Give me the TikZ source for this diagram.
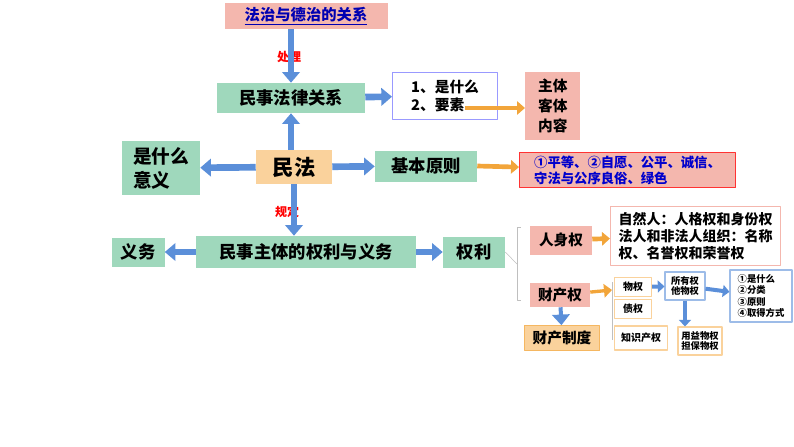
\documentclass[tikz,border=0pt]{standalone}
\usepackage{fontspec}
\setmainfont{Noto Sans CJK SC}
\newcommand\cjkb{\bfseries}
\usetikzlibrary{arrows.meta}
\definecolor{gbox}{HTML}{9FD8BC}
\definecolor{pbox}{HTML}{F4B7AE}
\definecolor{obox}{HTML}{FAD29C}
\definecolor{barr}{HTML}{5B8FD9}
\definecolor{oarr}{HTML}{F2A53A}
\begin{document}
\begin{tikzpicture}[x=0.75pt, y=-0.75pt, line join=round,
    box/.style={draw=none, inner sep=2pt, align=center, font=\cjkb},
    gnode/.style={box, fill=gbox},
    pnode/.style={box, fill=pbox},
    onode/.style={box, fill=obox},
    wnode/.style={box, fill=white, draw=#1, line width=0.8pt},
    barrow/.style={barr, line width=5pt, -{Triangle[width=13pt,length=8pt]}},
    oarrow/.style={oarr, line width=3.5pt, -{Triangle[width=10pt,length=6pt]}}]
    \useasboundingbox (0,0) rectangle (794,447);

    % Top row
    \node[pnode, minimum width=163*0.75pt, minimum height=26*0.75pt, font=\cjkb\fontsize{11.5}{13}\selectfont, text=blue!70!black] (rel) at (306,16) {\underline{法治与德治的关系}};
    \node[gnode, minimum width=148*0.75pt, minimum height=30*0.75pt, font=\cjkb\fontsize{13}{15}\selectfont] (civrel) at (291,98) {民事法律关系};
    \node[font=\cjkb\fontsize{9}{10}\selectfont, text=red] (deal) at (289,57) {处理};
    \node[wnode=blue!40, align=left, minimum width=105*0.75pt, minimum height=47*0.75pt, font=\cjkb\fontsize{11}{14}\selectfont, anchor=west] (what) at (392,96) {1、是什么\\2、要素\hspace{3em}};
    \node[pnode, align=left, minimum width=55*0.75pt, minimum height=68*0.75pt, font=\cjkb\fontsize{11}{15}\selectfont, anchor=west] (elem) at (525,106) {主体\\客体\\内容};

    % Middle row
    \node[onode, minimum width=76*0.75pt, minimum height=34*0.75pt, font=\cjkb\fontsize{16}{18}\selectfont] (law) at (294,167) {民法};
    \node[gnode, align=left, minimum width=78*0.75pt, minimum height=54*0.75pt, font=\cjkb\fontsize{14}{18}\selectfont] (mean) at (161,168) {是什么\\意义\hspace{1em}};
    \node[gnode, minimum width=102*0.75pt, minimum height=31*0.75pt, font=\cjkb\fontsize{13}{15}\selectfont] (princ) at (426,166) {基本原则};
    \node[pnode, align=left, draw=red!80, line width=0.8pt, minimum width=216*0.75pt, minimum height=35*0.75pt, font=\cjkb\fontsize{10}{12}\selectfont, text=blue!80!black, anchor=west] (list) at (519,170) {①平等、②自愿、公平、诚信、\\守法与公序良俗、绿色};
    \node[font=\cjkb\fontsize{9}{10}\selectfont, text=red] (rule) at (287,212) {规定};

    % Lower row
    \node[gnode, minimum width=220*0.75pt, minimum height=32*0.75pt, font=\cjkb\fontsize{13}{15}\selectfont] (subj) at (306,252) {民事主体的权利与义务};
    \node[gnode, minimum width=53*0.75pt, minimum height=29*0.75pt, font=\cjkb\fontsize{13}{15}\selectfont] (duty) at (138,252) {义务};
    \node[gnode, minimum width=62*0.75pt, minimum height=31*0.75pt, font=\cjkb\fontsize{13}{15}\selectfont] (right) at (474,252) {权利};

    % Rights branch
    \node[pnode, minimum width=62*0.75pt, minimum height=29*0.75pt, font=\cjkb\fontsize{11}{12}\selectfont] (pers) at (561,240) {人身权};
    \node[wnode=pbox, align=left, minimum width=170*0.75pt, minimum height=59*0.75pt, font=\cjkb\fontsize{10.5}{12.5}\selectfont, anchor=west] (pdet) at (610,236) {自然人：人格权和身份权\\法人和非法人组织：名称\\权、名誉权和荣誉权};
    \node[pnode, minimum width=60*0.75pt, minimum height=24*0.75pt, font=\cjkb\fontsize{11}{12}\selectfont] (prop) at (560,295) {财产权};
    \node[onode, draw=oarr!80, minimum width=75*0.75pt, minimum height=25*0.75pt, font=\cjkb\fontsize{11}{12}\selectfont] (sys) at (562,338) {财产制度};
    \coordinate (brtop) at (517,227);
    \coordinate (brbot) at (517,300);
    \coordinate (brmid) at (517,264);
    \draw[gray!50] (brtop) -- ++(4,0) (brtop) -- (brbot) -- ++(4,0);
    \draw[gray!50] (right.east) -- (brmid);

    % Property details
    \node[wnode=obox, minimum width=37*0.75pt, minimum height=19*0.75pt, font=\cjkb\fontsize{7.5}{9}\selectfont] (thing) at (633,287) {物权};
    \node[wnode=obox, minimum width=37*0.75pt, minimum height=19*0.75pt, font=\cjkb\fontsize{7.5}{9}\selectfont] (debt) at (633,309) {债权};
    \node[wnode=obox, minimum width=53*0.75pt, minimum height=24*0.75pt, font=\cjkb\fontsize{7.5}{9}\selectfont] (ip) at (641,338) {知识产权};
    \draw[gray!50] (612,282) -- (612,340);
    \node[wnode=barr!60, minimum width=40*0.75pt, minimum height=28*0.75pt, font=\cjkb\fontsize{7}{8}\selectfont] (own) at (685,286) {所有权\\他物权};
    \node[wnode=barr!60, align=left, minimum width=62*0.75pt, minimum height=52*0.75pt, font=\cjkb\fontsize{7}{8.5}\selectfont] (four) at (761,296) {①是什么\\②分类\\③原则\\④取得方式};
    \node[wnode=obox, minimum width=44*0.75pt, minimum height=28*0.75pt, font=\cjkb\fontsize{7}{8}\selectfont] (use) at (700,341) {用益物权\\担保物权};

    % Block arrows
    \draw[barrow] (civrel |- rel.south) -- (civrel);
    \draw[barrow] (law.north -| civrel) -- (civrel);
    \draw[barrow] (civrel) -- (what);
    \draw[barrow] (law) -- (mean);
    \draw[barrow] (law) -- (princ);
    \draw[barrow] (law.south) -- (law |- subj.north);
    \draw[barrow] (subj) -- (duty);
    \draw[barrow] (subj) -- (right);
    \draw[barrow, line width=3pt] (prop) -- (sys);
    \draw[barrow, line width=3pt, -{Triangle[width=9pt,length=5pt]}] (thing) -- (own);
    \draw[barrow, line width=3pt, -{Triangle[width=9pt,length=5pt]}] (own) -- (four);
    \draw[barrow, line width=3pt, -{Triangle[width=9pt,length=5pt]}] (own) -- (own |- use.north);
    \draw[oarrow] (465,108) -- (elem.west |- 0,108);
    \draw[oarrow] (princ.east) -- (list);
    \draw[oarrow] (pers) -- (pdet);
    \draw[oarrow, line width=2.5pt] (prop) -- (612,290);
\end{tikzpicture}
\end{document}
